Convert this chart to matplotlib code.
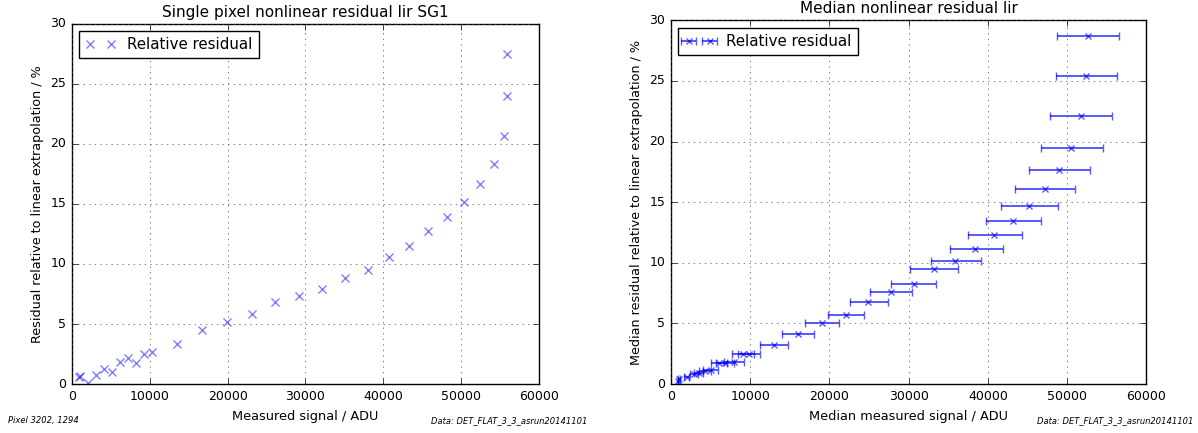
import matplotlib
matplotlib.use('Agg')
import matplotlib.pyplot as plt
import numpy as np

plt.style.use('classic')

# single pixel residuals
pix_signal = [950, 1050, 2080, 3110, 4150, 5190, 6230, 7220, 8250, 9240, 10230,
              13490, 16650, 19870, 23080, 26100, 29160, 32180, 35040, 38000,
              40720, 43340, 45760, 48140, 50410, 52440, 54220, 55550, 55850, 55850]
pix_resid = [0.62, 0.66, 0.08, 0.72, 1.25, 1.0, 1.86, 2.19, 1.75, 2.5, 2.69,
             3.36, 4.5, 5.17, 5.8, 6.86, 7.36, 7.92, 8.86, 9.53,
             10.56, 11.47, 12.75, 13.92, 15.17, 16.67, 18.36, 20.67, 23.97, 27.47]

# median residuals with signal spread
med_signal = [900, 1000, 2000, 2900, 3500, 4300, 5000, 6100, 6800, 7900, 9100, 9900,
              12990, 16010, 19090, 22070, 24900, 27780, 30610, 33200, 35880, 38420,
              40810, 43160, 45210, 47160, 48920, 50480, 51700, 52380, 52580]
med_lo = [850, 900, 1700, 2400, 2900, 3600, 4100, 5100, 5700, 6700, 7700, 8500,
          11180, 14010, 16890, 19820, 22550, 25090, 27830, 30220, 32810, 35250,
          37490, 39740, 41690, 43450, 45160, 46670, 47800, 48530, 48770]
med_hi = [950, 1100, 2300, 3400, 4100, 5000, 5900, 7100, 7900, 9200, 10500, 11300,
          14790, 18060, 21240, 24360, 27440, 30410, 33490, 36270, 39150, 41840,
          44280, 46670, 48870, 50970, 52920, 54530, 55700, 56240, 56485]
med_resid = [0.22, 0.4, 0.55, 0.85, 0.95, 1.1, 1.2, 1.7, 1.75, 1.85, 2.45, 2.45,
             3.2, 4.13, 5.01, 5.7, 6.78, 7.58, 8.26, 9.45, 10.11, 11.13,
             12.29, 13.44, 14.68, 16.06, 17.63, 19.5, 22.15, 25.37, 28.7]

fig = plt.figure(figsize=(11.98, 4.33), dpi=100, facecolor='white')

ax1 = fig.add_axes([0.060, 0.113, 0.390, 0.832])
ax1.plot(pix_signal, pix_resid, 'x', color='b', alpha=0.5, markersize=6,
         markeredgewidth=1.0, label='Relative residual')
ax1.set_xlim(0, 60000)
ax1.set_ylim(0, 30)
ax1.set_title('Single pixel nonlinear residual lir SG1', fontsize=11)
ax1.set_xlabel('Measured signal / ADU', fontsize=9.3)
ax1.set_ylabel('Residual relative to linear extrapolation / %', fontsize=9.2)
ax1.grid(True, linestyle=':', color='0.3', linewidth=0.5)
ax1.tick_params(labelsize=9)
ax1.legend(loc='upper left', numpoints=2, fontsize=10.8, fancybox=False)

xerr = [np.array(med_signal) - np.array(med_lo), np.array(med_hi) - np.array(med_signal)]
ax2 = fig.add_axes([0.560, 0.113, 0.397, 0.840])
ax2.errorbar(med_signal, med_resid, xerr=xerr, fmt='x', color='b', alpha=0.65,
             markersize=5, markeredgewidth=1.0, elinewidth=1.4, capsize=3,
             label='Relative residual')
ax2.set_xlim(0, 60000)
ax2.set_ylim(0, 30)
ax2.set_title('Median nonlinear residual lir', fontsize=11)
ax2.set_xlabel('Median measured signal / ADU', fontsize=9.3)
ax2.set_ylabel('Median residual relative to linear extrapolation / %', fontsize=9.2)
ax2.grid(True, linestyle=':', color='0.3', linewidth=0.5)
ax2.tick_params(labelsize=9)
ax2.legend(loc='upper left', numpoints=2, fontsize=10.8, fancybox=False)

fig.text(0.007, 0.022, 'Pixel 3202, 1294', fontsize=6, style='italic')
fig.text(0.490, 0.022, 'Data: DET_FLAT_3_3_asrun20141101', fontsize=6, style='italic', ha='right')
fig.text(0.996, 0.022, 'Data: DET_FLAT_3_3_asrun20141101', fontsize=6, style='italic', ha='right')

fig.savefig('out.png', dpi=100, facecolor='white')
